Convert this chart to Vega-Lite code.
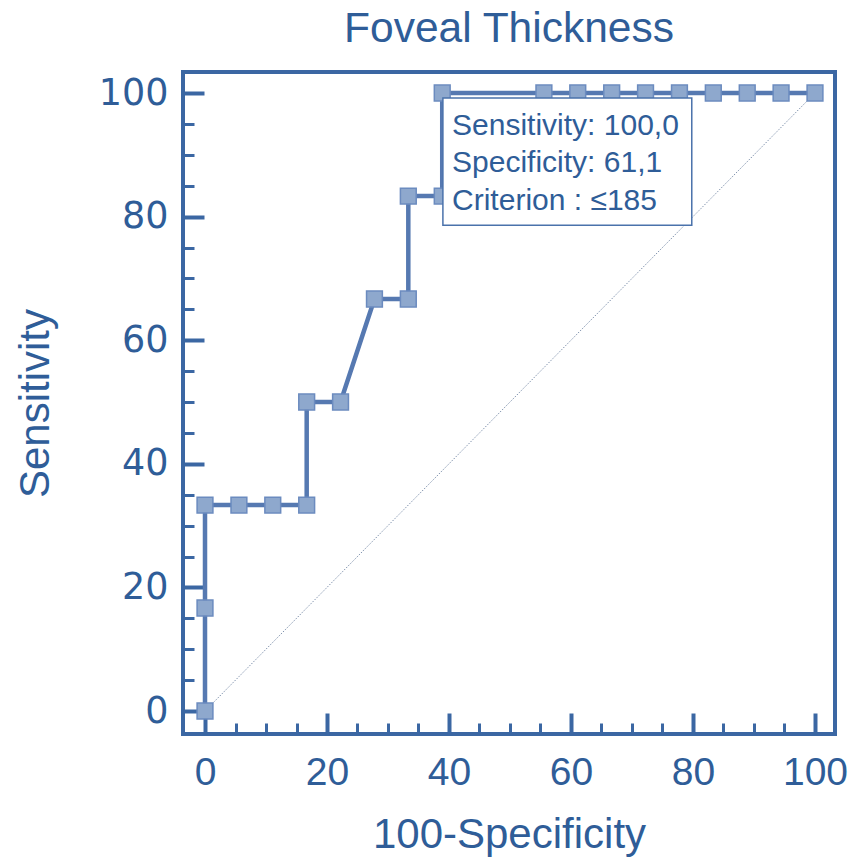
{
  "$schema": "https://vega.github.io/schema/vega-lite/v6.json",
  "width": 652,
  "height": 662,
  "autosize": {"type": "none"},
  "padding": {"left": 183, "top": 72, "right": 20, "bottom": 129},
  "background": "white",
  "title": {
    "text": "Foveal Thickness",
    "font": "Liberation Sans",
    "fontSize": 42.5,
    "fontWeight": "normal",
    "color": "#2f5d98",
    "anchor": "middle",
    "frame": "group",
    "baseline": "alphabetic",
    "offset": -12
  },
  "config": {
    "view": {"stroke": "#3b67a3", "strokeWidth": 4},
    "axis": {"grid": false, "domain": false, "tickColor": "#3b67a3", "labelColor": "#2f5d98", "titleColor": "#2f5d98"}
  },
  "datasets": {
    "roc": [
      {"point": 1, "fpr": 0, "tpr": 0},
      {"point": 2, "fpr": 0, "tpr": 16.67},
      {"point": 3, "fpr": 0, "tpr": 33.33},
      {"point": 4, "fpr": 5.56, "tpr": 33.33},
      {"point": 5, "fpr": 11.11, "tpr": 33.33},
      {"point": 6, "fpr": 16.67, "tpr": 33.33},
      {"point": 7, "fpr": 16.67, "tpr": 50},
      {"point": 8, "fpr": 22.22, "tpr": 50},
      {"point": 9, "fpr": 27.78, "tpr": 66.67},
      {"point": 10, "fpr": 33.33, "tpr": 66.67},
      {"point": 11, "fpr": 33.33, "tpr": 83.33},
      {"point": 12, "fpr": 38.89, "tpr": 83.33},
      {"point": 13, "fpr": 38.89, "tpr": 100},
      {"point": 14, "fpr": 55.56, "tpr": 100},
      {"point": 15, "fpr": 61.11, "tpr": 100},
      {"point": 16, "fpr": 66.67, "tpr": 100},
      {"point": 17, "fpr": 72.22, "tpr": 100},
      {"point": 18, "fpr": 77.78, "tpr": 100},
      {"point": 19, "fpr": 83.33, "tpr": 100},
      {"point": 20, "fpr": 88.89, "tpr": 100},
      {"point": 21, "fpr": 94.44, "tpr": 100},
      {"point": 22, "fpr": 100, "tpr": 100}
    ]
  },
  "resolve": {"axis": {"x": "independent", "y": "independent"}},
  "layer": [
    {
      "data": {"values": [{}]},
      "mark": {"type": "rule", "color": "#7f92ad", "strokeWidth": 1, "strokeDash": [1.5, 1.5]},
      "encoding": {
        "x": {"datum": 0, "type": "quantitative", "scale": {"domain": [-3.607, 103.28], "nice": false, "zero": false},
              "axis": {"orient": "bottom", "values": [5, 10, 15, 25, 30, 35, 45, 50, 55, 65, 70, 75, 85, 90, 95], "labels": false, "title": null, "tickSize": -11, "tickWidth": 3}},
        "x2": {"datum": 100},
        "y": {"datum": 0, "type": "quantitative", "scale": {"domain": [-3.72, 103.4], "nice": false, "zero": false},
              "axis": {"orient": "left", "values": [5, 10, 15, 25, 30, 35, 45, 50, 55, 65, 70, 75, 85, 90, 95], "labels": false, "title": null, "tickSize": -11, "tickWidth": 3}},
        "y2": {"datum": 100}
      }
    },
    {
      "data": {"name": "roc"},
      "mark": {"type": "line", "color": "#5679b1", "strokeWidth": 4.5},
      "encoding": {
        "x": {"field": "fpr", "type": "quantitative", "scale": {"domain": [-3.607, 103.28], "nice": false, "zero": false},
              "axis": {"orient": "bottom", "values": [0, 20, 40, 60, 80, 100], "tickSize": -21, "tickWidth": 4,
                       "labelFont": "Liberation Sans", "labelFontSize": 39, "labelPadding": 40, "labelFlush": false, "labelOverlap": false,
                       "title": "100-Specificity", "titleFont": "Liberation Sans", "titleFontSize": 42, "titleFontWeight": "normal",
                       "titleX": 326, "titleY": 113, "titleAlign": "center", "titleBaseline": "alphabetic"}},
        "y": {"field": "tpr", "type": "quantitative", "scale": {"domain": [-3.72, 103.4], "nice": false, "zero": false},
              "axis": {"orient": "left", "values": [0, 20, 40, 60, 80, 100], "tickSize": -21, "tickWidth": 4,
                       "labelFont": "DejaVu Sans", "labelFontSize": 36.5, "labelPadding": 36, "labelFlush": false, "labelOverlap": false,
                       "title": "Sensitivity", "titleFont": "Liberation Sans", "titleFontSize": 42, "titleFontWeight": "normal",
                       "titleX": -135, "titleY": 331, "titleAngle": -90, "titleAlign": "center", "titleBaseline": "alphabetic"}},
        "order": {"field": "point", "type": "quantitative"}
      }
    },
    {
      "data": {"name": "roc"},
      "mark": {"type": "point", "shape": "square", "filled": true, "size": 250, "fill": "#8ea8cd", "stroke": "#6b8bbf", "strokeWidth": 1.5, "opacity": 1},
      "encoding": {
        "x": {"field": "fpr", "type": "quantitative", "axis": null},
        "y": {"field": "tpr", "type": "quantitative", "axis": null}
      }
    },
    {
      "data": {"values": [{}]},
      "mark": {"type": "rect", "fill": "white", "stroke": "#4a72ab", "strokeWidth": 1.5},
      "encoding": {
        "x": {"datum": 39.0, "type": "quantitative", "axis": null},
        "x2": {"datum": 79.8},
        "y": {"datum": 99.2, "type": "quantitative", "axis": null},
        "y2": {"datum": 78.6}
      }
    },
    {
      "data": {"values": [{}]},
      "mark": {"type": "text", "align": "left", "baseline": "top", "font": "Liberation Sans", "fontSize": 30, "color": "#2f5d98", "lineHeight": 37.5},
      "encoding": {
        "x": {"datum": 40.5, "type": "quantitative", "axis": null},
        "y": {"datum": 97.17, "type": "quantitative", "axis": null},
        "text": {"value": ["Sensitivity: 100,0", "Specificity: 61,1", "Criterion : ≤185"]}
      }
    }
  ]
}
